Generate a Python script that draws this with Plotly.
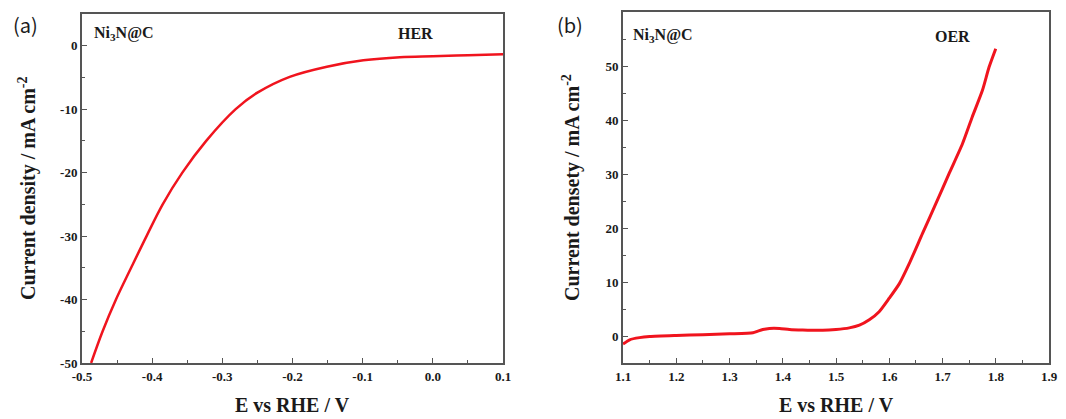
import plotly.graph_objects as go

# HER data (panel a)
her_e = [-0.487, -0.4706, -0.4516, -0.430, -0.408, -0.385, -0.357, -0.323, -0.281,
         -0.250, -0.204, -0.151, -0.099, -0.047, 0.0, 0.050, 0.100]
her_j = [-50.0, -45.0, -40.0, -35.0, -30.0, -25.0, -20.0, -15.0, -10.0,
         -7.4, -4.9, -3.3, -2.3, -1.8, -1.65, -1.5, -1.35]

# OER data (panel b)
oer_e = [1.1, 1.1125, 1.131, 1.15, 1.2, 1.25, 1.3, 1.344, 1.353, 1.3625, 1.375,
         1.394, 1.4125, 1.4375, 1.475, 1.5, 1.525, 1.544, 1.5625, 1.581, 1.6,
         1.619, 1.6375, 1.6625, 1.6875, 1.7125, 1.7375, 1.756, 1.775, 1.7875, 1.8]
oer_j = [-1.5, -0.7, -0.3, -0.1, 0.1, 0.25, 0.4, 0.6, 0.9, 1.2, 1.4,
         1.4, 1.2, 1.1, 1.05, 1.2, 1.5, 2.0, 3.0, 4.5, 7.0,
         9.7, 13.4, 19.0, 24.5, 30.1, 35.6, 40.6, 45.5, 49.8, 53.2]

her_xticks = [-0.5, -0.4, -0.3, -0.2, -0.1, 0.0, 0.1]
her_xlabels = ["-0.5", "-0.4", "-0.3", "-0.2", "-0.1", "0.0", "0.1"]
her_yticks = [-50, -40, -30, -20, -10, 0]
her_ylabels = ["-50", "-40", "-30", "-20", "-10", "0"]
oer_xticks = [1.1, 1.2, 1.3, 1.4, 1.5, 1.6, 1.7, 1.8, 1.9]
oer_xlabels = ["1.1", "1.2", "1.3", "1.4", "1.5", "1.6", "1.7", "1.8", "1.9"]
oer_yticks = [0, 10, 20, 30, 40, 50, 60]
oer_ylabels = ["0", "10", "20", "30", "40", "50", "60"]

RED = "#f0141e"
AX = "#555555"
SERIF = "Liberation Serif"
TXT = "#1a1a1a"
W, H = 1066, 419
OFF = 8  # page body margin


def px(x):
    return (x - OFF) / W


def py(y):
    return 1 - (y - OFF) / H


fig = go.Figure()
fig.add_trace(go.Scatter(x=her_e, y=her_j, mode="lines", line=dict(color=RED, width=2.5, shape="spline", smoothing=1.0),
                         xaxis="x", yaxis="y", showlegend=False))
fig.add_trace(go.Scatter(x=oer_e, y=oer_j, mode="lines", line=dict(color=RED, width=3, shape="spline", smoothing=0.6),
                         xaxis="x2", yaxis="y2", showlegend=False))

tfont = dict(family="Liberation Serif, Times New Roman, serif", size=13, color=TXT, weight="bold")


def ax(**kw):
    d = dict(showline=True, linecolor=AX, linewidth=2, mirror=True, ticks="inside",
             ticklen=5, tickwidth=1.3, tickcolor=AX, showgrid=False, zeroline=False,
             tickfont=tfont,
             minor=dict(ticks="inside", ticklen=3, tickcolor=AX, tickwidth=1.3))
    d.update(kw)
    return d


fig.update_layout(
    template="none",
    font=dict(family=SERIF, color=TXT),
    width=W, height=H,
    margin=dict(l=0, r=0, t=0, b=0),
    paper_bgcolor="white", plot_bgcolor="white",
    xaxis=ax(domain=[px(82), px(503)], range=[-0.5, 0.1], tickmode="array", tickvals=her_xticks,
             ticktext=her_xlabels, anchor="y"),
    yaxis=ax(domain=[py(363), py(14)], range=[-50, 5], tickmode="array", tickvals=her_yticks,
             ticktext=her_ylabels, anchor="x"),
    xaxis2=ax(domain=[px(623), px(1049)], range=[1.1, 1.9], tickmode="array", tickvals=oer_xticks,
              ticktext=oer_xlabels, anchor="y2"),
    yaxis2=ax(domain=[py(363), py(12)], range=[-5, 60], tickmode="array", tickvals=oer_yticks,
              ticktext=oer_ylabels, anchor="x2"),
)
fig.update_xaxes(minor_dtick=0.05, minor_tick0=0)
fig.update_yaxes(minor_dtick=5, minor_tick0=0)

title_font = dict(family=SERIF, size=20, color=TXT)
lab_font = dict(family=SERIF, size=16, color=TXT)
ann = [
    dict(text="<b>E vs RHE / V</b>", x=292, y=405, font=title_font),
    dict(text="<b>E vs RHE / V</b>", x=836, y=405, font=title_font),
    dict(text="<b>Current density / mA cm<sup>-2</sup></b>", x=27, y=188, font=title_font, textangle=-90),
    dict(text="<b>Current densety / mA cm<sup>-2</sup></b>", x=571, y=188, font=title_font, textangle=-90),
    dict(text="<b>Ni<sub>3</sub>N@C</b>", x=124, y=33, font=lab_font),
    dict(text="<b>Ni<sub>3</sub>N@C</b>", x=663, y=35, font=lab_font),
    dict(text="<b>HER</b>", x=415, y=33, font=lab_font),
    dict(text="<b>OER</b>", x=952, y=36, font=lab_font),
    dict(text="(a)", x=25, y=25, font=dict(family="Noto Sans CJK SC", size=20, color=TXT)),
    dict(text="(b)", x=570, y=25, font=dict(family="Noto Sans CJK SC", size=20, color=TXT)),
]
for a in ann:
    fig.add_annotation(text=a["text"], x=px(a["x"]), y=py(a["y"]), xref="paper", yref="paper",
                       showarrow=False, xanchor="center", yanchor="middle", font=a["font"],
                       textangle=a.get("textangle", 0))

fig.write_html("out.html")
